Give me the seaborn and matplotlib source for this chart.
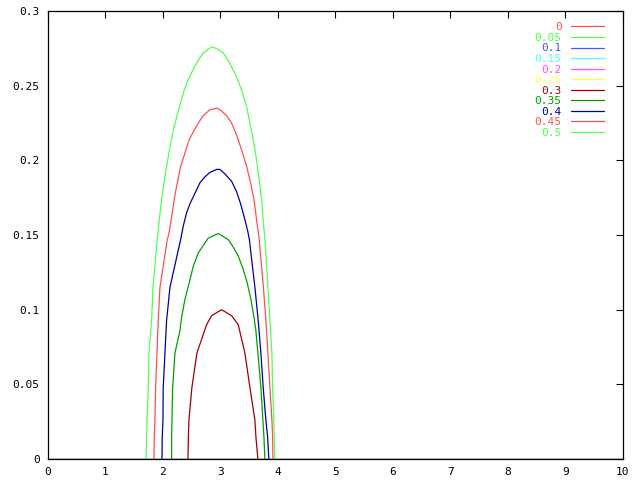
import numpy as np
import pandas as pd
import matplotlib
matplotlib.use("Agg")
import matplotlib.pyplot as plt
import seaborn as sns

# ======================
# Datos
# ======================
series_labels = ["0", "0.05", "0.1", "0.15", "0.2", "0.25", "0.3", "0.35", "0.4", "0.45", "0.5"]
series_colors = ["#ff5050", "#50ff50", "#5050ff", "#50ffff", "#ff50ff", "#ffff50",
                 "#a00000", "#00a000", "#0000a0", "#ff5050", "#50ff50"]

# series planas (todo cero)
x_flat = [0.0, 10.0]
y_flat = [0.0, 0.0]

x_030 = [2.435, 2.443, 2.452, 2.504, 2.591, 2.760, 2.847, 3.021, 3.195, 3.310, 3.426, 3.513, 3.600,
         3.617, 3.652]
y_030 = [0.0, 0.015, 0.026, 0.048, 0.071, 0.090, 0.096, 0.100, 0.096, 0.090, 0.071, 0.048, 0.026,
         0.015, 0.0]

x_035 = [2.151, 2.151, 2.157, 2.169, 2.209, 2.296, 2.325, 2.383, 2.457, 2.527, 2.614, 2.701, 2.788,
         2.962, 3.136, 3.223, 3.310, 3.397, 3.466, 3.530, 3.583, 3.617, 3.652, 3.704, 3.739, 3.757,
         3.774]
y_035 = [0.0, 0.015, 0.026, 0.048, 0.071, 0.086, 0.095, 0.107, 0.118, 0.129, 0.138, 0.143, 0.148,
         0.151, 0.147, 0.142, 0.136, 0.127, 0.118, 0.107, 0.095, 0.086, 0.071, 0.048, 0.026, 0.015,
         0.0]

x_040 = [1.983, 1.988, 2.000, 2.005, 2.035, 2.064, 2.122, 2.308, 2.353, 2.412, 2.470, 2.557, 2.643,
         2.730, 2.817, 2.934, 2.991, 3.078, 3.195, 3.282, 3.351, 3.414, 3.473, 3.504, 3.600, 3.657,
         3.704, 3.744, 3.791, 3.821, 3.843]
y_040 = [0.0, 0.015, 0.026, 0.048, 0.071, 0.093, 0.115, 0.147, 0.156, 0.165, 0.171, 0.178, 0.185,
         0.189, 0.192, 0.194, 0.194, 0.191, 0.186, 0.179, 0.171, 0.162, 0.153, 0.147, 0.115, 0.093,
         0.071, 0.048, 0.026, 0.015, 0.0]

x_045 = [1.843, 1.849, 1.861, 1.873, 1.896, 1.918, 1.948, 2.075, 2.104, 2.151, 2.197, 2.249, 2.308,
         2.383, 2.457, 2.527, 2.614, 2.701, 2.817, 2.944, 2.991, 3.108, 3.195, 3.282, 3.369, 3.456,
         3.525, 3.583, 3.630, 3.675, 3.748, 3.791, 3.826, 3.861, 3.896, 3.908, 3.913]
y_045 = [0.0, 0.015, 0.026, 0.048, 0.071, 0.093, 0.115, 0.147, 0.151, 0.162, 0.174, 0.185, 0.196,
         0.205, 0.214, 0.219, 0.225, 0.230, 0.234, 0.235, 0.234, 0.230, 0.225, 0.217, 0.207, 0.196,
         0.185, 0.174, 0.160, 0.147, 0.115, 0.093, 0.071, 0.048, 0.026, 0.015, 0.0]

x_050 = [1.704, 1.717, 1.722, 1.744, 1.757, 1.803, 1.826, 1.901, 1.936, 1.977, 2.017, 2.064, 2.122,
         2.179, 2.238, 2.308, 2.370, 2.440, 2.527, 2.614, 2.701, 2.847, 2.934, 3.049, 3.165, 3.282,
         3.369, 3.456, 3.513, 3.570, 3.630, 3.675, 3.717, 3.744, 3.774, 3.826, 3.861, 3.896, 3.908,
         3.930, 3.936, 3.948]
y_050 = [0.0, 0.015, 0.026, 0.048, 0.071, 0.093, 0.115, 0.147, 0.160, 0.174, 0.185, 0.196, 0.209,
         0.220, 0.229, 0.239, 0.247, 0.254, 0.261, 0.267, 0.272, 0.276, 0.275, 0.272, 0.265, 0.256,
         0.247, 0.236, 0.225, 0.214, 0.200, 0.187, 0.174, 0.160, 0.147, 0.115, 0.093, 0.071, 0.048,
         0.026, 0.015, 0.0]

x_ticks = [0, 1, 2, 3, 4, 5, 6, 7, 8, 9, 10]
y_ticks = [0, 0.05, 0.1, 0.15, 0.2, 0.25, 0.3]
y_tick_labels = ["0", "0.05", "0.1", "0.15", "0.2", "0.25", "0.3"]

series_x = [x_flat] * 6 + [x_030, x_035, x_040, x_045, x_050]
series_y = [y_flat] * 6 + [y_030, y_035, y_040, y_045, y_050]

# ======================
# Gráfico
# ======================
sns.set_style("white")
plt.rcParams["font.family"] = ["DejaVu Sans Mono"]

fig = plt.figure(figsize=(6.4, 4.8), dpi=100)
ax = fig.add_axes([0.075, 0.04375, 0.898, 0.933])

for lab, col, xs, ys in zip(series_labels, series_colors, series_x, series_y):
    df = pd.DataFrame({"x": xs, "y": ys})
    sns.lineplot(data=df, x="x", y="y", ax=ax, color=col, linewidth=0.9,
                 estimator=None, sort=False, label=lab,
                 zorder=4 if lab == "0.1" else 2)

ax.set_xlim(0, 10)
ax.set_ylim(0, 0.3)
ax.set_xticks(x_ticks)
ax.set_yticks(y_ticks)
ax.set_yticklabels(y_tick_labels)
ax.set_xlabel("")
ax.set_ylabel("")
ax.tick_params(direction="in", length=5, width=0.8, top=True, right=True,
               labelsize=8, colors="black", pad=6)
for sp in ax.spines.values():
    sp.set_color("black")
    sp.set_linewidth(0.9)

leg = ax.legend(loc="upper right", bbox_to_anchor=(0.975, 0.985), frameon=False,
                markerfirst=False, fontsize=8, labelcolor="linecolor",
                handlelength=3.0, handletextpad=0.8, labelspacing=0.05,
                borderaxespad=0)
for t in leg.get_texts():
    t.set_ha("right")

fig.savefig("out.png", dpi=100)
